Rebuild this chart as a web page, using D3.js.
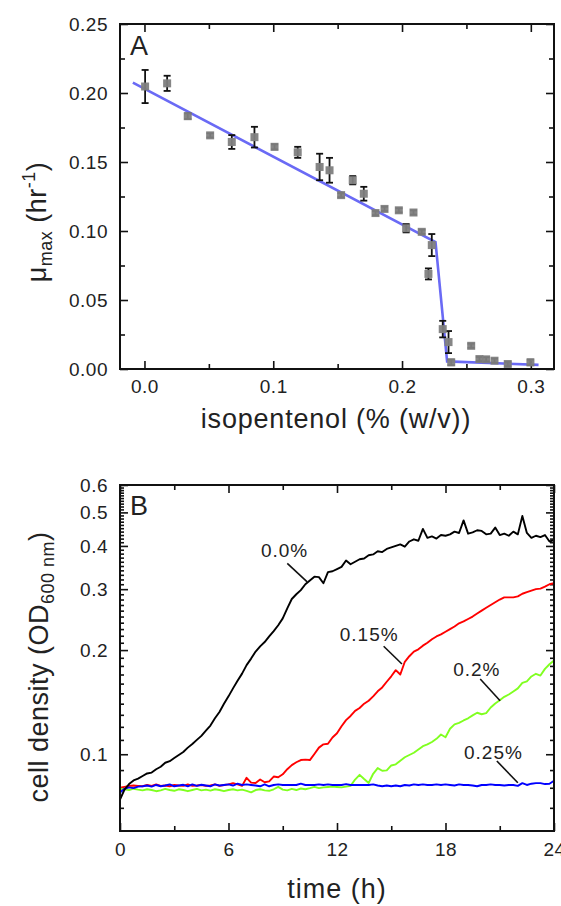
<!DOCTYPE html>
<html>
<head>
<meta charset="utf-8">
<script src="https://cdn.jsdelivr.net/npm/d3@7"></script>
<style>
  body { margin: 0; background: #fff; }
  svg text { font-family: Arial, "Liberation Sans", Helvetica, sans-serif; fill: #222; }
</style>
</head>
<body>
<svg id="chart" width="561" height="906"></svg>
<script>
"use strict"

// ---- panel A: growth rate vs isopentenol ----
const isoConc = [0.0005, 0.0176, 0.0336, 0.051, 0.0678, 0.0854, 0.101, 0.119, 0.136, 0.1437,
    0.1527, 0.1617, 0.1703, 0.1794, 0.1864, 0.1975, 0.2032, 0.2089, 0.2153, 0.2205,
    0.2231, 0.2316, 0.2361, 0.2382, 0.2537, 0.2601, 0.2653, 0.2718, 0.2821, 0.2997]
const muMax = [0.2047, 0.207, 0.1832, 0.1693, 0.1645, 0.168, 0.161, 0.157, 0.1464, 0.144,
    0.126, 0.1368, 0.127, 0.113, 0.116, 0.115, 0.102, 0.1134, 0.0994, 0.0689,
    0.0898, 0.0289, 0.0195, 0.0048, 0.0168, 0.0072, 0.007, 0.006, 0.0036, 0.0048]
const muErr = [0.012, 0.0055, 0.002, 0.0015, 0.005, 0.0075, 0.0018, 0.004, 0.0096, 0.009,
    0.0015, 0.003, 0.005, 0.0015, 0.0015, 0.0015, 0.003, 0.0015, 0.0015, 0.004,
    0.008, 0.006, 0.008, 0.002, 0.0015, 0.0015, 0.0015, 0.0015, 0.0015, 0.002]
const fitConc = [-0.009, 0.226, 0.235, 0.306]
const fitMu = [0.2075, 0.092, 0.0055, 0.003]
const isoTicks = [0, 0.1, 0.2, 0.3]
const muTicks = [0, 0.05, 0.1, 0.15, 0.2, 0.25]

// ---- panel B: growth curves ----
const hours = [0, 0.25, 0.5, 0.75, 1, 1.25, 1.5, 1.75, 2, 2.25, 2.5, 2.75, 3, 3.25, 3.5, 3.75,
    4, 4.25, 4.5, 4.75, 5, 5.25, 5.5, 5.75, 6, 6.25, 6.5, 6.75, 7, 7.25, 7.5, 7.75,
    8, 8.25, 8.5, 8.75, 9, 9.25, 9.5, 9.75, 10, 10.25, 10.5, 10.75, 11, 11.25, 11.5, 11.75,
    12, 12.25, 12.5, 12.75, 13, 13.25, 13.5, 13.75, 14, 14.25, 14.5, 14.75, 15, 15.25, 15.5, 15.75,
    16, 16.25, 16.5, 16.75, 17, 17.25, 17.5, 17.75, 18, 18.25, 18.5, 18.75, 19, 19.25, 19.5, 19.75,
    20, 20.25, 20.5, 20.75, 21, 21.25, 21.5, 21.75, 22, 22.25, 22.5, 22.75, 23, 23.25, 23.5, 23.75, 24]
const od00 = [0.074, 0.079, 0.082, 0.084, 0.085, 0.0865, 0.088, 0.0885, 0.0905, 0.092, 0.0945, 0.0955,
    0.0975, 0.0995, 0.1015, 0.1045, 0.107, 0.110, 0.113, 0.117, 0.121, 0.127, 0.1325, 0.140,
    0.147, 0.155, 0.163, 0.171, 0.181, 0.189, 0.198, 0.205, 0.211, 0.219, 0.227, 0.236,
    0.247, 0.264, 0.281, 0.290, 0.298, 0.310, 0.318, 0.326, 0.325, 0.312, 0.336, 0.338,
    0.343, 0.348, 0.363, 0.354, 0.360, 0.366, 0.368, 0.376, 0.378, 0.386, 0.384, 0.392,
    0.396, 0.400, 0.404, 0.398, 0.412, 0.418, 0.414, 0.448, 0.422, 0.426, 0.420, 0.430,
    0.428, 0.432, 0.440, 0.436, 0.474, 0.434, 0.438, 0.444, 0.442, 0.432, 0.434, 0.452,
    0.430, 0.434, 0.428, 0.440, 0.432, 0.488, 0.436, 0.422, 0.428, 0.424, 0.430, 0.412, 0.416]
const od015 = [0.0800, 0.0805, 0.0810, 0.0812, 0.0810, 0.0808, 0.0815, 0.0810, 0.0818, 0.0810, 0.0812, 0.0808,
    0.0815, 0.0812, 0.0810, 0.0818, 0.0810, 0.0812, 0.0815, 0.0810, 0.0812, 0.0818, 0.0810, 0.0815,
    0.0818, 0.0825, 0.0818, 0.0810, 0.0855, 0.0828, 0.0826, 0.0845, 0.0830, 0.0835, 0.0862, 0.0858,
    0.0875, 0.0905, 0.0930, 0.0948, 0.0962, 0.0965, 0.0962, 0.1002, 0.1045, 0.1068, 0.1072, 0.1118,
    0.1150, 0.1205, 0.1255, 0.1290, 0.1335, 0.1360, 0.1400, 0.1428, 0.1470, 0.1520, 0.1560, 0.1620,
    0.1680, 0.1750, 0.1700, 0.1850, 0.1920, 0.1980, 0.2010, 0.2060, 0.2100, 0.2150, 0.2190, 0.2220,
    0.2260, 0.2300, 0.2340, 0.2390, 0.2420, 0.2460, 0.2500, 0.2550, 0.2600, 0.2650, 0.2700, 0.2750,
    0.2800, 0.2840, 0.2840, 0.2840, 0.2860, 0.2910, 0.2940, 0.2970, 0.3000, 0.3010, 0.3050, 0.3100, 0.3120]
const od02 = [0.0795, 0.0792, 0.0788, 0.0795, 0.0790, 0.0786, 0.0792, 0.0788, 0.0782, 0.0786, 0.0794, 0.0788,
    0.0784, 0.0792, 0.0788, 0.0782, 0.0788, 0.0794, 0.0786, 0.0790, 0.0785, 0.0792, 0.0788, 0.0782,
    0.0788, 0.0792, 0.0786, 0.0790, 0.0784, 0.0776, 0.0788, 0.0792, 0.0786, 0.0784, 0.0792, 0.0805,
    0.0790, 0.0786, 0.0794, 0.0788, 0.0796, 0.0792, 0.0798, 0.0805, 0.0798, 0.0802, 0.0804, 0.0806,
    0.0804, 0.0802, 0.0806, 0.0810, 0.0845, 0.0872, 0.0848, 0.0826, 0.0878, 0.0912, 0.0896, 0.0898,
    0.0928, 0.0935, 0.0958, 0.0980, 0.0995, 0.1010, 0.1032, 0.1055, 0.1068, 0.1085, 0.1108, 0.1140,
    0.1120, 0.1185, 0.1220, 0.1232, 0.1252, 0.1270, 0.1295, 0.1318, 0.1305, 0.1315, 0.1365, 0.1402,
    0.1432, 0.1465, 0.1488, 0.1518, 0.1550, 0.1608, 0.1625, 0.1678, 0.1708, 0.1688, 0.1765, 0.1820, 0.1865]
const od025 = [0.0775, 0.0795, 0.0802, 0.0798, 0.0806, 0.0808, 0.0812, 0.0806, 0.0815, 0.0808, 0.0812, 0.0818,
    0.0808, 0.0812, 0.0816, 0.0808, 0.0818, 0.0810, 0.0816, 0.0812, 0.0808, 0.0818, 0.0812, 0.0815,
    0.0818, 0.0812, 0.0822, 0.0815, 0.0818, 0.0815, 0.0812, 0.0808, 0.0818, 0.0808, 0.0815, 0.0818,
    0.0815, 0.0815, 0.0815, 0.0815, 0.0822, 0.0815, 0.0815, 0.0815, 0.0818, 0.0815, 0.0818, 0.0815,
    0.0815, 0.0815, 0.0820, 0.0815, 0.0815, 0.0815, 0.0815, 0.0815, 0.0818, 0.0812, 0.0808, 0.0812,
    0.0808, 0.0812, 0.0808, 0.0815, 0.0812, 0.0818, 0.0815, 0.0818, 0.0815, 0.0815, 0.0818, 0.0815,
    0.0818, 0.0815, 0.0812, 0.0818, 0.0815, 0.0815, 0.0812, 0.0808, 0.0815, 0.0815, 0.0818, 0.0815,
    0.0815, 0.0812, 0.0815, 0.0815, 0.0810, 0.0825, 0.0815, 0.0822, 0.0825, 0.0825, 0.0820, 0.0822, 0.0838]
const curveLabels = ["0.15%", "0.2%", "0.25%", "0.0%"]
const curveColors = ["#ff0000", "#80ff20", "#0000ff", "#000000"]
const curveValues = [od015, od02, od025, od00]
const timeTicks = [0, 6, 12, 18, 24]
const odTicks = [0.1, 0.2, 0.3, 0.4, 0.5, 0.6]
// label text anchor, leader start, leader end (data coords)
const labelText = [[13.78, 0.213], [19.73, 0.1687], [20.65, 0.0969], [9.1, 0.371]]
const leaderFrom = [[14.58, 0.2052], [19.92, 0.165], [20.84, 0.0956], [9.25, 0.356]]
const leaderTo = [[15.59, 0.1823], [21.02, 0.1428], [22.0, 0.0827], [10.35, 0.315]]

const svg = d3.select("#chart")

const frame = {left: 120, right: 554}

function drawFrame(g, x0, x1, y0, y1) {
    g.append("rect")
        .attr("x", x0).attr("y", y0)
        .attr("width", x1 - x0).attr("height", y1 - y0)
        .attr("fill", "none")
        .attr("stroke", "#111")
        .attr("stroke-width", 2)
}

function styleAxis(sel, labels) {
    sel.select(".domain").remove()
    sel.selectAll(".tick line").attr("stroke", "#111").attr("stroke-width", 1.6)
    sel.selectAll(".tick text")
        .style("font-size", "19px")
        .style("letter-spacing", "0.5px")
        .attr("fill", "#222")
    if (!labels) sel.selectAll(".tick text").remove()
}

function addAxis(g, axis, transform, labels) {
    const a = g.append("g").attr("transform", transform).call(axis)
    styleAxis(a, labels)
    return a
}

// ================= Panel A =================
const xA = d3.scaleLinear().domain([-0.019, 0.318]).range([frame.left, frame.right])
const yA = d3.scaleLinear().domain([0, 0.25]).range([369, 24])
const gA = svg.append("g")

const isoMinor = [0.05, 0.15, 0.25]
const muMinor = [0.025, 0.075, 0.125, 0.175, 0.225]

addAxis(gA, d3.axisBottom(xA).tickValues(isoTicks).tickFormat(d3.format(".1f")).tickSize(-8).tickPadding(11), "translate(0,369)", true)
addAxis(gA, d3.axisBottom(xA).tickValues(isoMinor).tickSize(-5), "translate(0,369)", false)
addAxis(gA, d3.axisTop(xA).tickValues(isoTicks).tickSize(-8), "translate(0,24)", false)
addAxis(gA, d3.axisTop(xA).tickValues(isoMinor).tickSize(-5), "translate(0,24)", false)
addAxis(gA, d3.axisLeft(yA).tickValues(muTicks).tickFormat(d3.format(".2f")).tickSize(-8).tickPadding(12), "translate(120,0)", true)
addAxis(gA, d3.axisLeft(yA).tickValues(muMinor).tickSize(-5), "translate(120,0)", false)
addAxis(gA, d3.axisRight(yA).tickValues(muTicks).tickSize(-8), "translate(554,0)", false)
addAxis(gA, d3.axisRight(yA).tickValues(muMinor).tickSize(-5), "translate(554,0)", false)

// fit line
gA.append("path")
    .datum(d3.zip(fitConc, fitMu))
    .attr("fill", "none")
    .attr("stroke", "#6a6af5")
    .attr("stroke-width", 2.6)
    .attr("d", d3.line().x(d => xA(d[0])).y(d => yA(d[1])))

// error bars
const pts = d3.zip(isoConc, muMax, muErr)
const eb = gA.append("g").attr("stroke", "#111").attr("stroke-width", 1.8)
pts.forEach(d => {
    const x = xA(d[0])
    eb.append("line").attr("x1", x).attr("x2", x).attr("y1", yA(d[1] - d[2])).attr("y2", yA(d[1] + d[2]))
    eb.append("line").attr("x1", x - 3.5).attr("x2", x + 3.5).attr("y1", yA(d[1] - d[2])).attr("y2", yA(d[1] - d[2]))
    eb.append("line").attr("x1", x - 3.5).attr("x2", x + 3.5).attr("y1", yA(d[1] + d[2])).attr("y2", yA(d[1] + d[2]))
})

gA.selectAll(".pt")
    .data(pts)
    .enter()
    .append("rect")
    .attr("class", "pt")
    .attr("x", d => xA(d[0]) - 4)
    .attr("y", d => yA(d[1]) - 4)
    .attr("width", 8)
    .attr("height", 8)
    .attr("fill", "#7f7f7f")
    .attr("fill-opacity", 0.95)

drawFrame(gA, frame.left, frame.right, 24, 369)

gA.append("text").attr("x", 130).attr("y", 55).style("font-size", "27px").text("A")

gA.append("text")
    .attr("x", 336).attr("y", 428)
    .attr("text-anchor", "middle")
    .style("font-size", "27px").style("letter-spacing", "0.8px")
    .text("isopentenol (% (w/v))")

const yTitleA = gA.append("text")
    .attr("transform", "translate(46,222) rotate(-90)")
    .attr("text-anchor", "middle")
    .style("font-size", "27px").style("letter-spacing", "0.5px")
yTitleA.append("tspan").text("μ")
yTitleA.append("tspan").attr("dy", 6).style("font-size", "18px").text("max")
yTitleA.append("tspan").attr("dy", -6).text(" (hr")
yTitleA.append("tspan").attr("dy", -11).style("font-size", "18px").text("-1")
yTitleA.append("tspan").attr("dy", 11).text(")")

// ================= Panel B =================
const xB = d3.scaleLinear().domain([0, 24]).range([frame.left, frame.right])
const yB = d3.scaleLog().domain([0.06, 0.6]).range([831, 485])
const gB = svg.append("g")

const timeMinor = [3, 9, 15, 21]
const odMinor = d3.range(7, 60).filter(v => v % 10 !== 0).map(v => v / 100)
const odMajorFmt = d3.format(".1f")

addAxis(gB, d3.axisBottom(xB).tickValues(timeTicks).tickFormat(d3.format("d")).tickSize(-8).tickPadding(12), "translate(0,831)", true)
addAxis(gB, d3.axisBottom(xB).tickValues(timeMinor).tickSize(-5), "translate(0,831)", false)
addAxis(gB, d3.axisTop(xB).tickValues(timeTicks).tickSize(-8), "translate(0,485)", false)
addAxis(gB, d3.axisTop(xB).tickValues(timeMinor).tickSize(-5), "translate(0,485)", false)
addAxis(gB, d3.axisLeft(yB).tickValues(odTicks).tickFormat(odMajorFmt).tickSize(-8).tickPadding(12), "translate(120,0)", true)
addAxis(gB, d3.axisLeft(yB).tickValues(odMinor).tickSize(-4), "translate(120,0)", false)
addAxis(gB, d3.axisRight(yB).tickValues(odTicks).tickSize(-8), "translate(554,0)", false)
addAxis(gB, d3.axisRight(yB).tickValues(odMinor).tickSize(-4), "translate(554,0)", false)

const lineB = d3.line().x(d => xB(d[0])).y(d => yB(d[1]))
curveValues.forEach((vals, i) => {
    gB.append("path")
        .datum(d3.zip(hours, vals))
        .attr("fill", "none")
        .attr("stroke", curveColors[i])
        .attr("stroke-width", 1.9)
        .attr("stroke-linejoin", "round")
        .attr("d", lineB)
})

curveLabels.forEach((lbl, i) => {
    gB.append("line")
        .attr("x1", xB(leaderFrom[i][0])).attr("y1", yB(leaderFrom[i][1]))
        .attr("x2", xB(leaderTo[i][0])).attr("y2", yB(leaderTo[i][1]))
        .attr("stroke", "#111").attr("stroke-width", 1.6)
    gB.append("text")
        .attr("x", xB(labelText[i][0])).attr("y", yB(labelText[i][1]))
        .attr("text-anchor", "middle")
        .style("font-size", "19px").style("letter-spacing", "1px")
        .text(lbl)
})

drawFrame(gB, frame.left, frame.right, 485, 831)

gB.append("text").attr("x", 130).attr("y", 515).style("font-size", "27px").text("B")

gB.append("text")
    .attr("x", 337).attr("y", 898)
    .attr("text-anchor", "middle")
    .style("font-size", "27px").style("letter-spacing", "1px")
    .text("time (h)")

const yTitleB = gB.append("text")
    .attr("transform", "translate(48,667) rotate(-90)")
    .attr("text-anchor", "middle")
    .style("font-size", "27px").style("letter-spacing", "0.5px")
yTitleB.append("tspan").text("cell density (OD")
yTitleB.append("tspan").attr("dy", 6).style("font-size", "18px").text("600 nm")
yTitleB.append("tspan").attr("dy", -6).text(")")
</script>
</body>
</html>
